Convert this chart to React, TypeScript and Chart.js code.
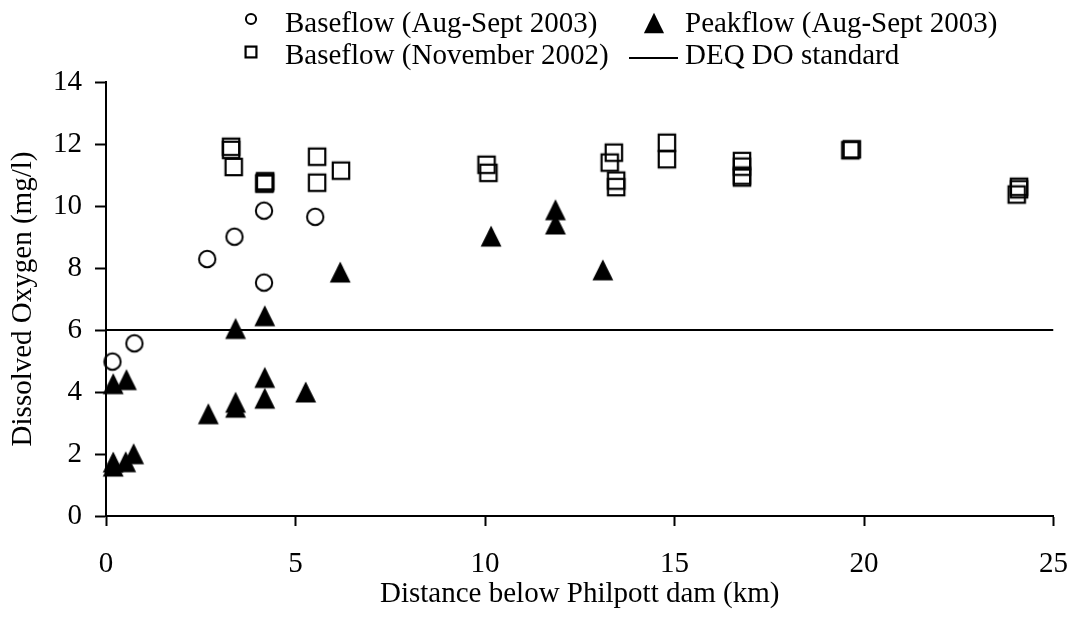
import React, { useEffect, useRef } from 'react';
import { Chart, registerables } from 'chart.js';

Chart.register(...registerables);

// ---------- data ----------
const seriesLabels = [
  'Baseflow (Aug-Sept 2003)',
  'Peakflow (Aug-Sept 2003)',
  'Baseflow (November 2002)',
  'DEQ DO standard',
];

const baseflow2003X = [0.17, 0.75, 2.67, 3.39, 4.17, 4.17, 5.52];
const baseflow2003Y = [4.98, 5.57, 8.29, 9.01, 9.85, 7.53, 9.65];

const peakflowX = [0.19, 0.19, 0.52, 0.73, 0.19, 0.54, 2.7, 3.42, 3.42, 3.42, 4.19, 4.19, 4.19, 5.27, 6.18, 10.16, 11.86, 11.86, 13.11];
const peakflowY = [1.74, 1.61, 1.75, 2.01, 4.27, 4.4, 3.3, 3.67, 3.51, 6.05, 4.47, 3.8, 6.46, 4.0, 7.87, 9.03, 9.88, 9.42, 7.94];

const baseflow2002X = [3.3, 3.3, 3.37, 4.19, 4.2, 4.18, 5.57, 5.57, 6.2, 10.04, 10.09, 13.4, 13.29, 13.46, 13.46, 14.8, 14.8, 16.78, 16.78, 16.78, 16.78, 19.64, 19.68, 24.09, 24.09, 24.03];
const baseflow2002Y = [11.91, 11.81, 11.26, 10.75, 10.8, 10.72, 11.59, 10.75, 11.14, 11.33, 11.07, 11.72, 11.4, 10.82, 10.61, 12.04, 11.51, 11.45, 11.27, 10.98, 10.92, 11.8, 11.83, 10.62, 10.54, 10.37];

const deqX = [0, 25];
const deqY = [6, 6];

const xRange = [0, 25];
const yRange = [0, 14];
const xStep = 5;
const yStep = 2;

const xTitle = 'Distance below Philpott dam (km)';
const yTitle = 'Dissolved Oxygen (mg/l)';

// ---------- helpers ----------
const FONT = '"Liberation Serif", "Times New Roman", serif';

const zip = (xs: number[], ys: number[]) => xs.map((x, i) => ({ x, y: ys[i] }));

function makeMarker(kind: string, scale = 1): HTMLCanvasElement {
  const c = document.createElement('canvas');
  const s = 28;
  c.width = s;
  c.height = s;
  const g = c.getContext('2d')!;
  const m = s / 2;
  g.strokeStyle = '#000';
  g.fillStyle = '#000';
  if (kind === 'circle') {
    g.lineWidth = 2;
    g.beginPath();
    g.arc(m, m, 8.2 * scale, 0, Math.PI * 2);
    g.stroke();
  } else if (kind === 'square') {
    g.lineWidth = 2.2;
    const h = 8.2 * scale;
    g.strokeRect(m - h, m - h, 2 * h, 2 * h);
  } else if (kind === 'triangle') {
    g.beginPath();
    g.moveTo(m, m - 10.5 * scale);
    g.lineTo(m + 10.4 * scale, m + 10.5 * scale);
    g.lineTo(m - 10.4 * scale, m + 10.5 * scale);
    g.closePath();
    g.fill();
  }
  return c;
}

const legendPlugin = {
  id: 'customLegend',
  afterDraw(chart: any) {
    const ctx = chart.ctx as CanvasRenderingContext2D;
    const ds = chart.data.datasets;
    ctx.save();
    ctx.font = `29px ${FONT}`;
    ctx.fillStyle = '#000';
    ctx.textAlign = 'left';
    ctx.textBaseline = 'alphabetic';
    const circle = makeMarker('circle', 0.62);
    const square = makeMarker('square', 0.66);
    const tri = makeMarker('triangle', 0.97);
    // row 1
    ctx.drawImage(circle, 251 - 14, 19 - 14);
    ctx.fillText(ds[0].label, 285, 32);
    ctx.drawImage(tri, 654 - 14, 23 - 14);
    ctx.fillText(ds[1].label, 685, 32);
    // row 2
    ctx.drawImage(square, 251 - 14, 52 - 14);
    ctx.fillText(ds[2].label, 285, 64);
    ctx.strokeStyle = '#000';
    ctx.lineWidth = 2;
    ctx.beginPath();
    ctx.moveTo(629, 58);
    ctx.lineTo(678, 58);
    ctx.stroke();
    ctx.fillText(ds[3].label, 685, 64);
    ctx.restore();
  },
};

export default function App() {
  const ref = useRef<HTMLCanvasElement | null>(null);

  useEffect(() => {
    if (!ref.current) return;
    const circle = makeMarker('circle');
    const square = makeMarker('square');
    const tri = makeMarker('triangle');

    const chart = new Chart(ref.current, {
      type: 'scatter',
      data: {
        datasets: [
          {
            label: seriesLabels[0],
            data: zip(baseflow2003X, baseflow2003Y),
            pointStyle: circle as any,
            pointRadius: 10,
            showLine: false,
            clip: false as any,
          },
          {
            label: seriesLabels[1],
            data: zip(peakflowX, peakflowY),
            pointStyle: tri as any,
            pointRadius: 10,
            showLine: false,
            clip: false as any,
          },
          {
            label: seriesLabels[2],
            data: zip(baseflow2002X, baseflow2002Y),
            pointStyle: square as any,
            pointRadius: 10,
            showLine: false,
            clip: false as any,
          },
          {
            label: seriesLabels[3],
            data: zip(deqX, deqY),
            showLine: true,
            pointRadius: 0,
            borderColor: '#000',
            borderWidth: 2,
            fill: false,
          } as any,
        ],
      },
      options: {
        animation: false,
        responsive: false,
        maintainAspectRatio: false,
        layout: { padding: { top: 82, right: 19, left: 0, bottom: 0 } },
        plugins: {
          legend: { display: false },
          tooltip: { enabled: false },
        },
        scales: {
          x: {
            type: 'linear',
            min: xRange[0],
            max: xRange[1],
            ticks: {
              stepSize: xStep,
              color: '#000',
              font: { family: FONT, size: 29 },
              padding: 21,
              maxRotation: 0,
            },
            grid: {
              display: true,
              drawOnChartArea: false,
              drawTicks: true,
              tickLength: 10,
              tickWidth: 2,
              tickColor: '#000',
            },
            border: { display: true, color: '#000', width: 2 },
            title: {
              display: true,
              text: xTitle,
              color: '#000',
              font: { family: FONT, size: 29 },
              padding: { top: 0, bottom: 7 },
            },
            afterFit: (s: any) => {
              s.height = 103;
            },
          },
          y: {
            type: 'linear',
            min: yRange[0],
            max: yRange[1],
            ticks: {
              stepSize: yStep,
              color: '#000',
              font: { family: FONT, size: 29 },
              padding: 13,
            },
            grid: {
              display: true,
              drawOnChartArea: false,
              drawTicks: true,
              tickLength: 11,
              tickWidth: 2,
              tickColor: '#000',
            },
            border: { display: true, color: '#000', width: 2 },
            title: {
              display: true,
              text: yTitle,
              color: '#000',
              font: { family: FONT, size: 29 },
              padding: { top: 6, bottom: 0 },
            },
            afterFit: (s: any) => {
              s.width = 106;
            },
          },
        },
      } as any,
      plugins: [legendPlugin],
    });
    return () => chart.destroy();
  }, []);

  return (
    <div style={{ position: 'fixed', left: 0, top: 0, width: 1089, height: 619, background: '#fff' }}>
      <canvas ref={ref} width={1089} height={619} style={{ display: 'block', width: 1089, height: 619 }} />
    </div>
  );
}
